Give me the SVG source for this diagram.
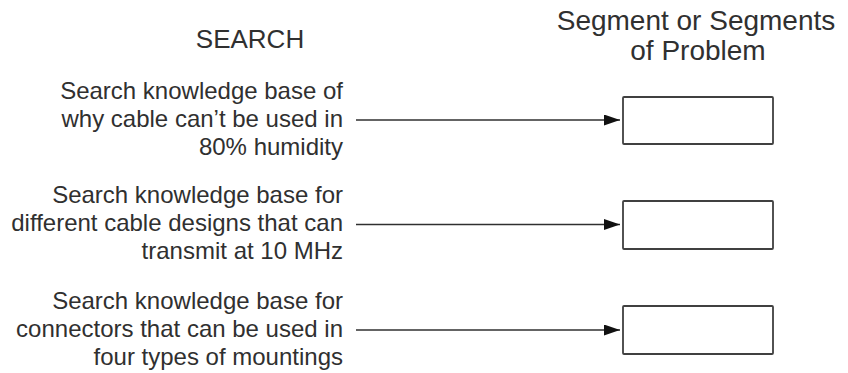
<svg xmlns="http://www.w3.org/2000/svg" width="848" height="373" viewBox="0 0 848 373">
  <style>
    text { font-family: "Liberation Sans", Arial, sans-serif; fill: #303030; }
    .hdr { font-size: 28px; text-anchor: middle; }
    .search { font-size: 26px; text-anchor: middle; }
    .lbl { font-size: 24px; text-anchor: end; }
    .box { fill: #ffffff; stroke: #404040; stroke-width: 1.8; }
    .conn { stroke: #303030; stroke-width: 1.6; fill: none; marker-end: url(#arrow); }
  </style>
  <defs>
    <marker id="arrow" markerUnits="userSpaceOnUse" markerWidth="17" markerHeight="12" refX="16" refY="5.5" orient="auto">
      <path d="M0,0 L16,5.5 L0,11 z" fill="#111111"/>
    </marker>
  </defs>
  <rect width="848" height="373" fill="#ffffff"/>

  <g id="header-search">
    <text class="search" x="250" y="48">SEARCH</text>
  </g>
  <g id="header-segment">
    <text class="hdr" x="696" y="30">Segment or Segments</text>
    <text class="hdr" x="698" y="60">of Problem</text>
  </g>

  <g id="search1">
    <text class="lbl" x="343" y="99">Search knowledge base of</text>
    <text class="lbl" x="343" y="127">why cable can’t be used in</text>
    <text class="lbl" x="343" y="155">80% humidity</text>
  </g>
  <g id="search2">
    <text class="lbl" x="343" y="203">Search knowledge base for</text>
    <text class="lbl" x="343" y="231">different cable designs that can</text>
    <text class="lbl" x="343" y="259">transmit at 10 MHz</text>
  </g>
  <g id="search3">
    <text class="lbl" x="343" y="309">Search knowledge base for</text>
    <text class="lbl" x="343" y="337">connectors that can be used in</text>
    <text class="lbl" x="343" y="365">four types of mountings</text>
  </g>

  <g id="segment1"><rect class="box" x="623" y="97" width="150" height="47" rx="1"/></g>
  <g id="segment2"><rect class="box" x="623" y="201" width="150" height="48" rx="1"/></g>
  <g id="segment3"><rect class="box" x="623" y="306" width="150" height="48" rx="1"/></g>

  <g id="connectors">
    <line class="conn" x1="356" y1="120" x2="620" y2="120"/>
    <line class="conn" x1="356" y1="224.5" x2="620" y2="224.5"/>
    <line class="conn" x1="356" y1="330" x2="620" y2="330"/>
  </g>
</svg>
